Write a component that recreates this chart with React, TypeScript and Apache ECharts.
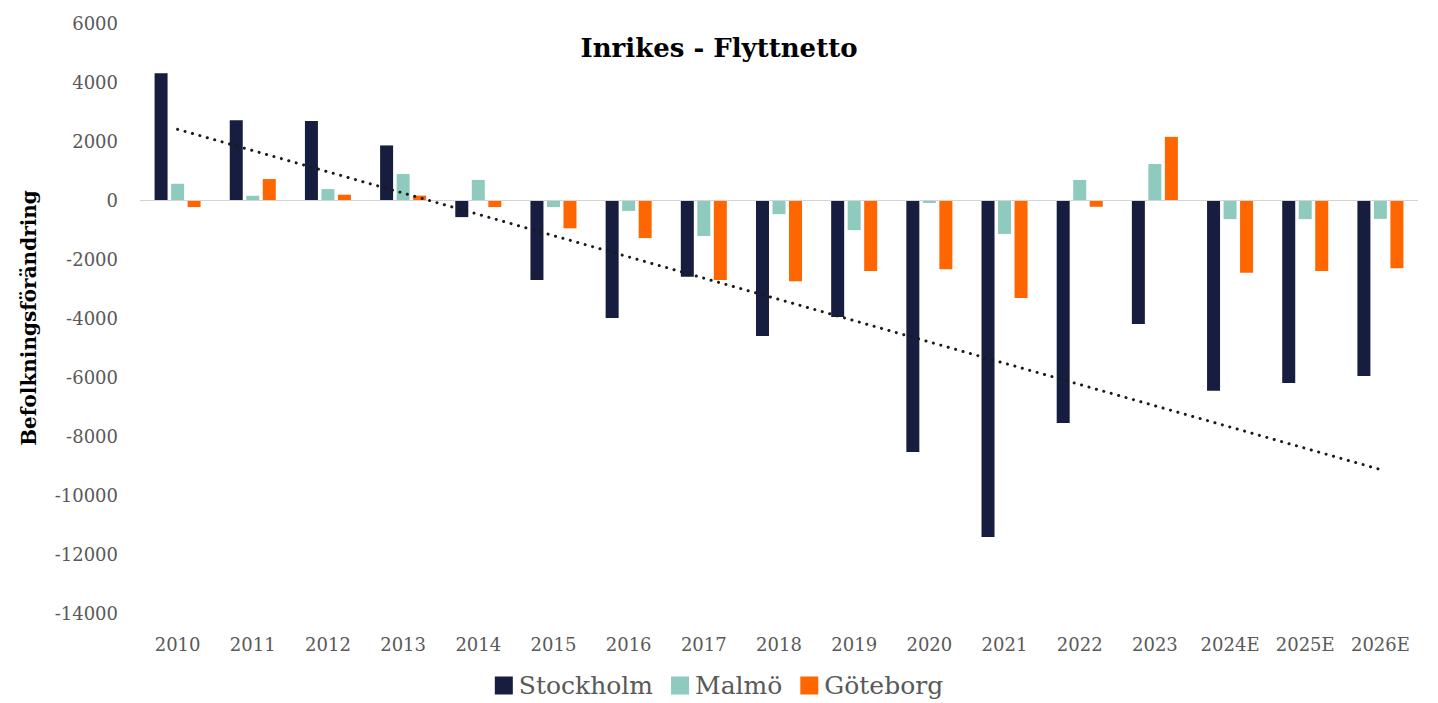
import React, { useEffect, useRef } from "react";
import * as echarts from "echarts";

const years = ["2010", "2011", "2012", "2013", "2014", "2015", "2016", "2017", "2018", "2019", "2020", "2021", "2022", "2023", "2024E", "2025E", "2026E"];
const stockholm = [4300, 2700, 2680, 1850, -580, -2710, -4000, -2600, -4610, -3970, -8540, -11420, -7560, -4200, -6470, -6200, -5970];
const malmo = [550, 140, 370, 880, 680, -240, -370, -1220, -480, -1020, -100, -1150, 680, 1220, -650, -650, -640];
const goteborg = [-240, 710, 180, 150, -240, -960, -1290, -2710, -2750, -2410, -2350, -3320, -230, 2140, -2470, -2410, -2310];
const yTicks = { min: -14000, max: 6000, interval: 2000 };

// Linear trend line (least squares) of the Stockholm series
function linearTrend(values: number[]): number[] {
  const n = values.length;
  const mx = (n - 1) / 2;
  const my = values.reduce((a, b) => a + b, 0) / n;
  let sxy = 0;
  let sxx = 0;
  values.forEach((v, i) => {
    sxy += (i - mx) * (v - my);
    sxx += (i - mx) * (i - mx);
  });
  const slope = sxy / sxx;
  return values.map((_, i) => Math.round(my + slope * (i - mx)));
}

const FONT = "DejaVu Serif";

export default function App() {
  const ref = useRef<HTMLDivElement>(null);
  useEffect(() => {
    if (!ref.current) return;
    const chart = echarts.init(ref.current, undefined, { renderer: "svg" });
    chart.setOption({
      animation: false,
      backgroundColor: "#ffffff",
      textStyle: { fontFamily: FONT },
      title: {
        text: "Inrikes - Flyttnetto",
        left: 714,
        top: 30,
        textAlign: "center",
        textStyle: { fontFamily: FONT, fontWeight: "bold", fontSize: 26, color: "#000000" },
      },
      legend: {
        bottom: 0,
        left: "center",
        itemWidth: 18,
        itemHeight: 18,
        itemGap: 18,
        icon: "rect",
        data: ["Stockholm", "Malmö", "Göteborg"],
        textStyle: { fontFamily: FONT, fontSize: 25, color: "#595959", padding: [0, 0, 0, 1] },
      },
      grid: { left: 140, right: 20, top: 23, bottom: 90 },
      xAxis: {
        type: "category",
        data: years,
        axisLine: { show: false, onZero: false },
        axisTick: { show: false },
        axisLabel: { fontFamily: FONT, fontSize: 18, color: "#595959", margin: 22, interval: 0 },
      },
      yAxis: {
        type: "value",
        min: yTicks.min,
        max: yTicks.max,
        interval: yTicks.interval,
        name: "Befolkningsförändring",
        nameLocation: "middle",
        nameGap: 101,
        nameRotate: 90,
        nameTextStyle: { fontFamily: FONT, fontWeight: "bold", fontSize: 20, color: "#000000" },
        splitLine: { show: false },
        axisLine: { show: false },
        axisTick: { show: false },
        axisLabel: {
          fontFamily: FONT,
          fontSize: 18,
          color: "#595959",
          margin: 22,
          formatter: (v: number) => String(v),
        },
      },
      series: [
        {
          name: "Stockholm",
          type: "bar",
          data: stockholm,
          barWidth: 13,
          barGap: "27%",
          itemStyle: { color: "#161d3e" },
          markLine: {
            silent: true,
            symbol: "none",
            label: { show: false },
            lineStyle: { color: "#d4d4d4", width: 1, type: "solid" },
            data: [{ yAxis: 0 }],
          },
        },
        { name: "Malmö", type: "bar", data: malmo, barWidth: 13, barGap: "27%", itemStyle: { color: "#8fcabf" } },
        { name: "Göteborg", type: "bar", data: goteborg, barWidth: 13, barGap: "27%", itemStyle: { color: "#ff6600" } },
        {
          name: "Trend",
          type: "line",
          data: linearTrend(stockholm),
          symbol: "none",
          z: 5,
          lineStyle: { color: "#1a1a1a", width: 3, type: [0.1, 7.6], cap: "round" },
        },
      ],
    });
    return () => chart.dispose();
  }, []);
  return (
    <div
      ref={ref}
      style={{ position: "fixed", left: 0, top: 0, width: 1438, height: 703, background: "#fff" }}
    />
  );
}
